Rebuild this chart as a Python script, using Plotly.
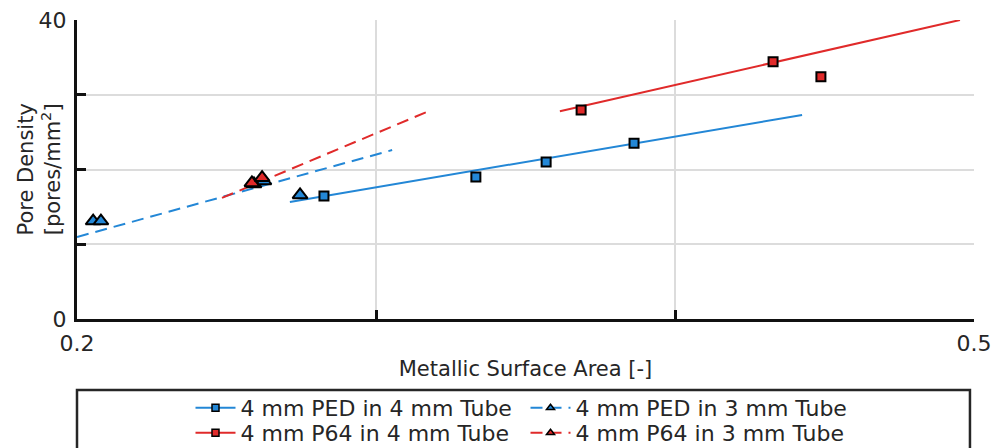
import plotly.graph_objects as go

# ---- data ----
ped4_x = [0.2826, 0.3334, 0.3569, 0.3863]
ped4_y = [16.45, 19.0, 21.0, 23.5]
ped4_fit_x = [0.2712, 0.4425]
ped4_fit_y = [15.65, 27.3]

p64_4_x = [0.3686, 0.4328, 0.4488]
p64_4_y = [27.96, 34.4, 32.4]
p64_4_fit_x = [0.3615, 0.4953]
p64_4_fit_y = [27.8, 40.0]

ped3_x = [0.2054, 0.2080, 0.2592, 0.2625, 0.2746]
ped3_y = [13.1, 13.1, 18.06, 18.46, 16.6]
ped3_fit_x = [0.2, 0.3054]
ped3_fit_y = [10.97, 22.6]

p64_3_x = [0.2585, 0.2619]
p64_3_y = [18.2, 18.9]
p64_3_fit_x = [0.2485, 0.3170]
p64_3_fit_y = [16.2, 27.7]

names = ["4 mm PED in 4 mm Tube", "4 mm PED in 3 mm Tube",
         "4 mm P64 in 4 mm Tube", "4 mm P64 in 3 mm Tube"]

x_major = [0.2, 0.5]
x_minor = [0.3, 0.4]
y_major = [0, 40]
y_minor = [10, 20, 30]

BLUE = "#2387d6"
RED = "#e02a2a"
DASH = "12px,7px"
TXT = "#262626"
GRID = "#dcdcdc"

fig = go.Figure()

# fit lines
fig.add_trace(go.Scatter(x=ped4_fit_x, y=ped4_fit_y, mode="lines",
                         line=dict(color=BLUE, width=2), showlegend=False, hoverinfo="skip"))
fig.add_trace(go.Scatter(x=ped3_fit_x, y=ped3_fit_y, mode="lines",
                         line=dict(color=BLUE, width=2, dash=DASH), showlegend=False, hoverinfo="skip"))
fig.add_trace(go.Scatter(x=p64_4_fit_x, y=p64_4_fit_y, mode="lines",
                         line=dict(color=RED, width=2), showlegend=False, hoverinfo="skip"))
fig.add_trace(go.Scatter(x=p64_3_fit_x, y=p64_3_fit_y, mode="lines",
                         line=dict(color=RED, width=2, dash=DASH), showlegend=False, hoverinfo="skip"))

# markers
fig.add_trace(go.Scatter(x=ped4_x, y=ped4_y, mode="markers", showlegend=False,
                         marker=dict(symbol="square", size=9, color=BLUE, line=dict(color="black", width=2))))
fig.add_trace(go.Scatter(x=p64_4_x, y=p64_4_y, mode="markers", showlegend=False,
                         marker=dict(symbol="square", size=9, color=RED, line=dict(color="black", width=2))))
fig.add_trace(go.Scatter(x=ped3_x, y=ped3_y, mode="markers", showlegend=False,
                         marker=dict(symbol="triangle-up", size=13, color=BLUE, line=dict(color="black", width=2))))
fig.add_trace(go.Scatter(x=p64_3_x, y=p64_3_y, mode="markers", showlegend=False,
                         marker=dict(symbol="triangle-up", size=13, color=RED, line=dict(color="black", width=2))))

# legend-only entries (row 1 -> legend, row 2 -> legend2)
leg = [(names[0], BLUE, "solid", "square", "legend"), (names[1], BLUE, DASH, "triangle-up", "legend"),
       (names[2], RED, "solid", "square", "legend2"), (names[3], RED, DASH, "triangle-up", "legend2")]
for nm, col, dash, sym, lg in leg:
    fig.add_trace(go.Scatter(x=[None], y=[None], mode="lines+markers", name=nm, legend=lg,
                             line=dict(color=col, width=2, dash=dash),
                             marker=dict(symbol=sym, size=7, color=col, line=dict(color="black", width=1.5))))

leg_common = dict(orientation="h", x=0.5, xanchor="center", yanchor="middle",
                  font=dict(size=22, color=TXT), entrywidth=280, entrywidthmode="pixels",
                  bgcolor="rgba(0,0,0,0)", itemwidth=40)

fig.update_layout(
    width=1003, height=448,
    margin=dict(l=69, r=37, t=12, b=137, autoexpand=False),
    paper_bgcolor="white", plot_bgcolor="white",
    font=dict(family="DejaVu Sans", color=TXT),
    showlegend=True,
    legend=dict(y=-0.2977, **leg_common),
    legend2=dict(y=-0.381, **leg_common),
    shapes=[dict(type="rect", xref="paper", yref="paper", x0=0.0, x1=0.9955,
                 y0=-0.50, y1=-0.2375, line=dict(color=TXT, width=2.5),
                 fillcolor="rgba(0,0,0,0)", layer="below")],
    annotations=[dict(text="Pore Density<br>[pores/mm<sup>2</sup>]", textangle=-90,
                      xref="paper", yref="paper", x=0, y=0.5, xanchor="center", yanchor="middle",
                      xshift=-38, showarrow=False, font=dict(size=21, color=TXT))],
)
fig.update_xaxes(range=[0.2, 0.5], tickvals=x_major, ticktext=["0.2", "0.5"], automargin=False,
                 ticklabeloverflow="allow",
                 showgrid=True, gridcolor=GRID, gridwidth=2,
                 showline=True, linecolor="#111", linewidth=3,
                 ticks="inside", ticklen=9, tickwidth=2.5, tickcolor="#111",
                 tickfont=dict(size=22, color=TXT), ticklabelstandoff=3,
                 minor=dict(tickvals=x_minor, ticks="inside", ticklen=9, tickwidth=2.5, tickcolor="#111",
                            showgrid=True, gridcolor=GRID, gridwidth=2),
                 zeroline=False,
                 title=dict(text="Metallic Surface Area [-]", font=dict(size=21, color=TXT), standoff=6))
fig.update_yaxes(range=[0, 40], tickvals=y_major, ticktext=["0", "40"], automargin=False,
                 ticklabeloverflow="allow",
                 showgrid=True, gridcolor=GRID, gridwidth=2,
                 showline=True, linecolor="#111", linewidth=3,
                 ticks="inside", ticklen=9, tickwidth=2.5, tickcolor="#111",
                 tickfont=dict(size=22, color=TXT), ticklabelstandoff=3,
                 minor=dict(tickvals=y_minor, ticks="inside", ticklen=9, tickwidth=2.5, tickcolor="#111",
                            showgrid=True, gridcolor=GRID, gridwidth=2),
                 zeroline=False)

fig.write_html("out.html")
